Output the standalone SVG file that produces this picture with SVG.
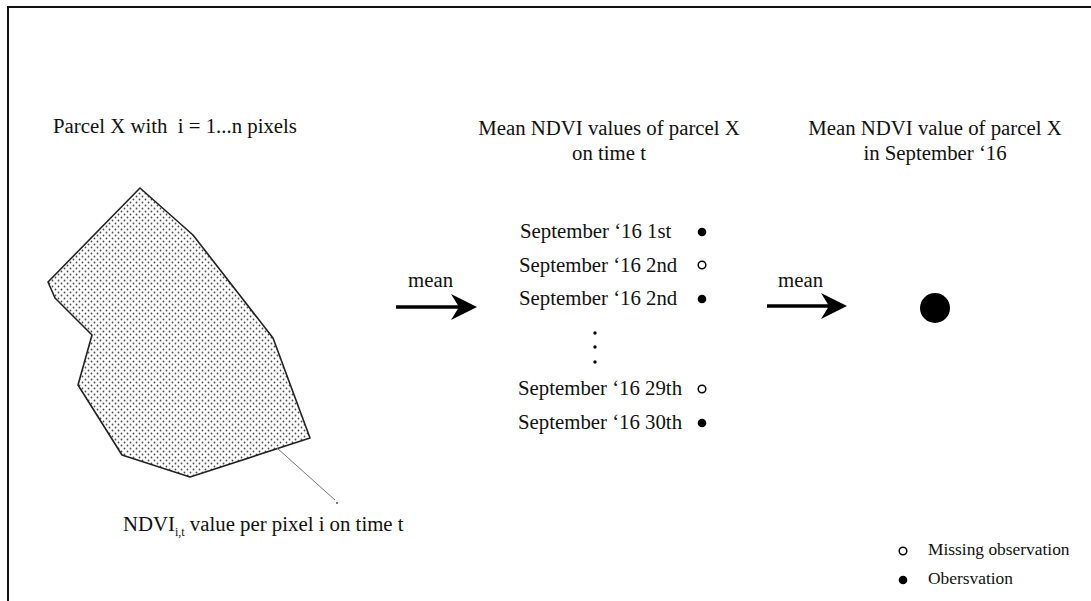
<svg xmlns="http://www.w3.org/2000/svg" width="1091" height="601" viewBox="0 0 1091 601">
<defs>
<style>
text{font-family:"Liberation Serif","Times New Roman",serif;fill:#111;}
.t{font-size:20.8px;}
.s{font-size:12px;}
.lg{font-size:17.4px;}
.full{fill:#000;}
.hol{fill:#fff;stroke:#000;stroke-width:1.5;}
.shaft{stroke:#000;stroke-width:3.5;fill:none;}
.head{fill:#000;}
</style>
<pattern id="dots" width="6" height="6" patternUnits="userSpaceOnUse">
<rect width="6" height="6" fill="#fff"/>
<circle cx="1.5" cy="1.5" r="0.9" fill="#4a4a4a"/>
<circle cx="4.5" cy="4.5" r="0.9" fill="#4a4a4a"/>
</pattern>
</defs>
<rect width="1091" height="601" fill="#fff"/>
<path d="M8,601 V7 H1091" fill="none" stroke="#111" stroke-width="2"/>

<g id="parcel">
<text class="t" x="53" y="133" xml:space="preserve">Parcel X with  i = 1...n pixels</text>
<polygon points="140,188 193,235 273,338 310,438 190,477 122,455 78,385 92,335 55,298 48,282" fill="url(#dots)" stroke="#222" stroke-width="1.6" stroke-linejoin="round"/>
</g>

<g id="pixel-label">
<text class="t" x="123" y="531">NDVI<tspan class="s" dy="5">i,t</tspan><tspan dy="-5"> value per pixel i on time t</tspan></text>
</g>

<g id="daily">
<text class="t" x="609" y="135" text-anchor="middle">Mean NDVI values of parcel X</text>
<text class="t" x="609" y="160" text-anchor="middle">on time t</text>
<text class="t" x="520" y="238">September ‘16 1st</text>
<text class="t" x="519" y="272">September ‘16 2nd</text>
<text class="t" x="519" y="305">September ‘16 2nd</text>
<text class="t" x="518" y="395">September ‘16 29th</text>
<text class="t" x="518" y="429">September ‘16 30th</text>
<circle class="full" cx="702" cy="232" r="4.3"/>
<circle class="hol" cx="702" cy="265" r="3.8"/>
<circle class="full" cx="702" cy="299" r="4.3"/>
<circle class="full" cx="595" cy="333" r="1.7"/>
<circle class="full" cx="595" cy="347" r="1.7"/>
<circle class="full" cx="595" cy="362" r="1.7"/>
<circle class="hol" cx="702" cy="389" r="3.8"/>
<circle class="full" cx="702" cy="423" r="4.3"/>
</g>

<g id="monthly">
<text class="t" x="935" y="135" text-anchor="middle">Mean NDVI value of parcel X</text>
<text class="t" x="935" y="160" text-anchor="middle">in September ‘16</text>
<circle class="full" cx="935" cy="308" r="15"/>
</g>

<g id="legend">
<circle class="hol" cx="903" cy="551" r="3.8"/>
<text class="lg" x="928" y="555">Missing observation</text>
<circle class="full" cx="903" cy="580" r="4.3"/>
<text class="lg" x="928" y="584">Obersvation</text>
</g>

<g id="connectors">
<line x1="277" y1="448" x2="335" y2="500" stroke="#777" stroke-width="1"/>
<circle cx="337" cy="503" r="1" fill="#555"/>
<text class="t" x="408" y="287">mean</text>
<line class="shaft" x1="396" y1="307" x2="462" y2="307"/>
<path class="head" d="M477,307 L451,294 L459,307 L451,320 Z"/>
<text class="t" x="778" y="287">mean</text>
<line class="shaft" x1="767" y1="306" x2="833" y2="306"/>
<path class="head" d="M847,306 L821,293 L829,306 L821,319 Z"/>
</g>
</svg>
